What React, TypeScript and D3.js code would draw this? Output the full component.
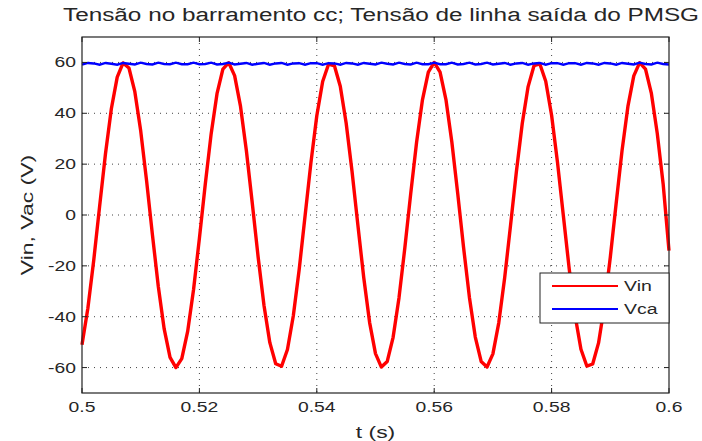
import React from "react";
import * as d3 from "d3";

// time base of the samples (s)
const tStart = 0.5;
const tStep = 0.001;

// Vin (red), read every 1 ms from 0.5 s to 0.6 s
const vinValues = [
  -51.0, -36.7, -17.8, 3.4, 24.1, 41.8, 54.2, 59.8, 57.8, 48.5,
  33.1, 13.5, -7.8, -28.1, -44.8, -56.0, -60.0, -56.5, -45.8, -29.4,
  -9.2, 12.1, 31.9, 47.7, 57.4, 59.9, 54.8, 42.8, 25.4, 4.8,
  -16.4, -35.5, -50.2, -58.5, -59.5, -52.9, -39.6, -21.4, -0.4, 20.6,
  39.0, 52.5, 59.3, 58.7, 50.6, 36.2, 17.2, -4.0, -24.7, -42.3,
  -54.5, -59.8, -57.6, -48.1, -32.6, -12.9, 8.4, 28.6, 45.3, 56.2,
  60.0, 56.2, 45.4, 28.8, 8.6, -12.7, -32.4, -48.0, -57.6, -59.8,
  -54.6, -42.4, -24.8, -4.2, 17.0, 36.0, 50.5, 58.7, 59.4, 52.6,
  39.2, 20.8, -0.2, -21.2, -39.5, -52.8, -59.4, -58.6, -50.3, -35.7,
  -16.6, 4.6, 25.3, 42.7, 54.7, 59.9, 57.4, 47.8, 32.1, 12.3,
  -14.0,
];

// Vca (blue), same sampling
const vcaValues = [
  59.1, 59.8, 59.6, 59.1, 59.8, 59.5, 59.1, 59.8, 59.5, 59.2,
  59.9, 59.4, 59.2, 59.9, 59.4, 59.3, 59.9, 59.3, 59.3, 59.9,
  59.3, 59.4, 59.9, 59.2, 59.4, 59.9, 59.2, 59.5, 59.8, 59.1,
  59.5, 59.8, 59.1, 59.6, 59.8, 59.1, 59.6, 59.7, 59.1, 59.7,
  59.7, 59.1, 59.7, 59.6, 59.1, 59.8, 59.6, 59.1, 59.8, 59.5,
  59.2, 59.9, 59.5, 59.2, 59.9, 59.4, 59.2, 59.9, 59.3, 59.3,
  59.9, 59.3, 59.3, 59.9, 59.2, 59.4, 59.9, 59.2, 59.4, 59.9,
  59.2, 59.5, 59.8, 59.1, 59.6, 59.8, 59.1, 59.6, 59.8, 59.1,
  59.7, 59.7, 59.1, 59.7, 59.7, 59.1, 59.8, 59.6, 59.1, 59.8,
  59.6, 59.1, 59.8, 59.5, 59.2, 59.9, 59.4, 59.2, 59.9, 59.4,
  59.2,
];

const xTicks = [0.5, 0.52, 0.54, 0.56, 0.58, 0.6];
const xTickLabels = ["0.5", "0.52", "0.54", "0.56", "0.58", "0.6"];
const yTicks = [-60, -40, -20, 0, 20, 40, 60];

const seriesNames = ["Vin", "Vca"];
const seriesColors = ["#ff0000", "#0000ff"];

const title = "Tensão no barramento cc; Tensão de linha saída do PMSG";
const xLabel = "t (s)";
const yLabel = "Vin, Vac (V)";

const width = 702;
const height = 441;
const margin = { top: 37, right: 33, bottom: 48, left: 82 };
const font = "'Liberation Sans', Arial, sans-serif";
const textColor = "#262626";

const Label = ({ x, y, anchor, size, sx = 1.38, rotate = 0, children }: any) => (
  <text
    transform={`translate(${x},${y}) rotate(${rotate}) scale(${sx},1)`}
    textAnchor={anchor}
    fontSize={size}
    fontFamily={font}
    fill={textColor}
  >
    {children}
  </text>
);

const App = () => {
  const x0 = margin.left;
  const x1 = width - margin.right;
  const y0 = margin.top;
  const y1 = height - margin.bottom;

  const xScale = d3.scaleLinear().domain([0.5, 0.6]).range([x0, x1]);
  const yScale = d3.scaleLinear().domain([-70, 70]).range([y1, y0]);

  const line = d3
    .line<number>()
    .x((_, i) => xScale(tStart + i * tStep))
    .y((d) => yScale(d));

  const tick = 5;
  const legend = { x: 540, y: 273, w: 129, h: 50 };

  return (
    <svg
      width={width}
      height={height}
      style={{ position: "absolute", left: 0, top: 0, background: "#fff" }}
    >
      <rect x={0} y={0} width={width} height={height} fill="#fff" />
      <text
        x={381}
        y={21}
        textAnchor="middle"
        fontSize={18}
        fontFamily={font}
        fill={textColor}
        textLength={636}
        lengthAdjust="spacingAndGlyphs"
      >
        {title}
      </text>

      {/* grid */}
      <g stroke="#444" strokeWidth={1} strokeDasharray="1,5">
        {xTicks.slice(1, -1).map((t) => (
          <line key={t} x1={xScale(t)} x2={xScale(t)} y1={y0} y2={y1} />
        ))}
        {yTicks.map((v) => (
          <line key={v} x1={x0} x2={x1} y1={yScale(v)} y2={yScale(v)} />
        ))}
      </g>

      {/* series */}
      <path d={line(vinValues) || ""} fill="none" stroke={seriesColors[0]} strokeWidth={3.4} strokeLinejoin="round" />
      <path d={line(vcaValues) || ""} fill="none" stroke={seriesColors[1]} strokeWidth={2.4} />

      {/* frame and ticks */}
      <rect x={x0} y={y0} width={x1 - x0} height={y1 - y0} fill="none" stroke="#222" strokeWidth={1.2} />
      <g stroke="#222" strokeWidth={1}>
        {xTicks.map((t) => (
          <g key={t}>
            <line x1={xScale(t)} x2={xScale(t)} y1={y1} y2={y1 - tick} />
            <line x1={xScale(t)} x2={xScale(t)} y1={y0} y2={y0 + tick} />
          </g>
        ))}
        {yTicks.map((v) => (
          <g key={v}>
            <line x1={x0} x2={x0 + tick} y1={yScale(v)} y2={yScale(v)} />
            <line x1={x1} x2={x1 - tick} y1={yScale(v)} y2={yScale(v)} />
          </g>
        ))}
      </g>

      {xTicks.map((t, i) => (
        <Label key={t} x={xScale(t)} y={y1 + 19} anchor="middle" size={14}>
          {xTickLabels[i]}
        </Label>
      ))}
      {yTicks.map((v) => (
        <Label key={v} x={x0 - 6} y={yScale(v) + 5} anchor="end" size={14}>
          {v}
        </Label>
      ))}

      <Label x={(x0 + x1) / 2} y={438} anchor="middle" size={17} sx={1.35}>
        {xLabel}
      </Label>
      <Label x={33} y={(y0 + y1) / 2} anchor="middle" size={17} sx={1.35} rotate={-90}>
        {yLabel}
      </Label>

      {/* legend */}
      <rect x={legend.x} y={legend.y} width={legend.w} height={legend.h} fill="#fff" stroke="#222" strokeWidth={1} />
      {seriesNames.map((name, i) => (
        <g key={name}>
          <line
            x1={legend.x + 12}
            x2={legend.x + 78}
            y1={legend.y + 13 + i * 23}
            y2={legend.y + 13 + i * 23}
            stroke={seriesColors[i]}
            strokeWidth={2}
          />
          <Label x={legend.x + 84} y={legend.y + 18 + i * 23} anchor="start" size={15} sx={1.3}>
            {name}
          </Label>
        </g>
      ))}
    </svg>
  );
};

export default App;
